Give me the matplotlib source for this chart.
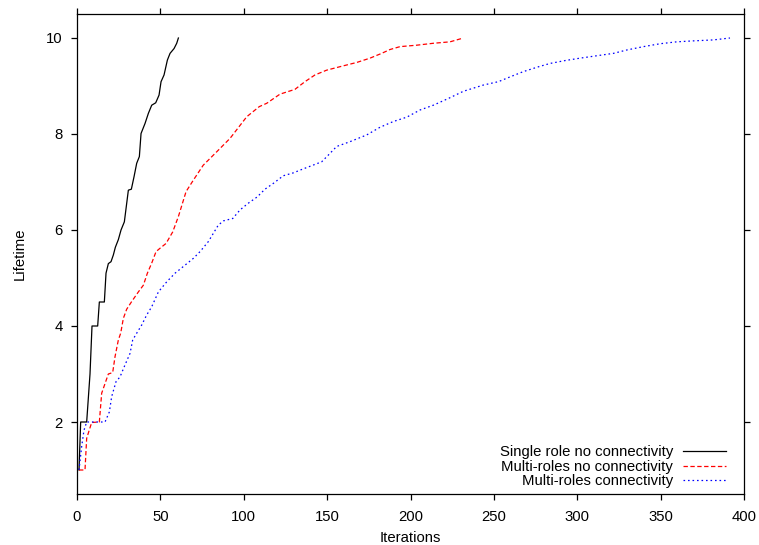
import matplotlib
matplotlib.use("Agg")
import matplotlib.pyplot as plt

plt.rcParams['font.family'] = ['Liberation Sans', 'DejaVu Sans']

# Single role, no connectivity
single_x = [1.2, 2.2, 5.8, 7.8, 9.0, 12.4, 13.4, 16.4, 17.4, 18.8, 20.4, 21.8, 23.0,
            24.8, 26.4, 28.4, 30.8, 32.6, 34.2, 35.8, 37.4, 38.4, 40.8, 42.8, 44.8,
            47.2, 49.2, 50.4, 52.2, 54.2, 55.8, 58.2, 59.8, 60.8]
single_y = [1.0, 2.0, 2.0, 3.0, 4.0, 4.0, 4.5, 4.5, 5.1, 5.3, 5.34, 5.48, 5.64,
            5.8, 6.0, 6.17, 6.83, 6.85, 7.11, 7.39, 7.53, 8.01, 8.22, 8.43, 8.6,
            8.65, 8.81, 9.09, 9.23, 9.54, 9.68, 9.78, 9.89, 10.0]

# Multi-roles, no connectivity
multi_x = [1.2, 4.8, 5.8, 8.8, 13.4, 14.8, 16.8, 18.8, 21.4, 22.8, 24.8, 26.2, 27.8,
           29.8, 32.8, 36.8, 39.8, 42.2, 44.8, 47.4, 49.8, 53.4, 57.4, 60.8, 65.4,
           69.8, 75.7, 83.8, 91.8, 101.8, 109.3, 113.8, 121.7, 130.7, 136.7, 142.7,
           149.7, 159.7, 167.7, 175.7, 182.7, 187.7, 193.7, 203.7, 213.7, 223.7, 231.7]
multi_y = [1.0, 1.0, 1.66, 1.99, 2.0, 2.6, 2.8, 3.0, 3.03, 3.36, 3.71, 3.85, 4.16,
           4.35, 4.51, 4.71, 4.85, 5.1, 5.31, 5.55, 5.62, 5.72, 5.96, 6.28, 6.8,
           7.04, 7.35, 7.63, 7.91, 8.36, 8.57, 8.64, 8.83, 8.93, 9.09, 9.23,
           9.33, 9.42, 9.49, 9.58, 9.68, 9.76, 9.82, 9.85, 9.89, 9.92, 10.0]

# Multi-roles, connectivity
conn_x = [1.2, 2.8, 4.2, 5.8, 16.8, 19.4, 20.8, 23.4, 25.8, 28.8, 31.8, 33.4, 35.8,
          38.8, 41.8, 44.8, 48.8, 53.8, 58.8, 63.8, 69.8, 73.8, 78.8, 84.7, 87.8,
          93.4, 97.8, 102.8, 108.1, 112.7, 117.7, 123.7, 129.7, 134.7, 140.7, 146.7,
          150.7, 155.7, 163.7, 173.7, 181.7, 189.7, 197.7, 205.7, 213.7, 222.7,
          231.7, 243.7, 252.7, 259.7, 267.7, 276.7, 283.7, 292.7, 301.7, 311.7,
          321.7, 329.7, 339.7, 349.6, 359.6, 369.6, 381.6, 391.6]
conn_y = [1.0, 1.49, 1.83, 2.0, 2.0, 2.21, 2.53, 2.84, 2.94, 3.19, 3.43, 3.71, 3.85,
          4.02, 4.23, 4.4, 4.71, 4.92, 5.1, 5.24, 5.41, 5.55, 5.76, 6.1, 6.19,
          6.24, 6.42, 6.56, 6.69, 6.85, 6.97, 7.13, 7.19, 7.26, 7.34, 7.42,
          7.56, 7.74, 7.84, 7.98, 8.14, 8.26, 8.35, 8.5, 8.6, 8.74,
          8.89, 9.02, 9.09, 9.19, 9.3, 9.4, 9.47, 9.53, 9.58, 9.63,
          9.68, 9.75, 9.82, 9.88, 9.92, 9.94, 9.96, 10.0]

x_ticks = [0, 50, 100, 150, 200, 250, 300, 350, 400]
y_ticks = [2, 4, 6, 8, 10]

FS = 10.7

fig = plt.figure(figsize=(7.59, 5.45), dpi=100)
ax = fig.add_axes([77 / 759, 51 / 545, 667 / 759, 480 / 545])

ax.plot(single_x, single_y, color='black', lw=0.9, label='Single role no connectivity')
ax.plot(multi_x, multi_y, color='red', lw=0.9, dashes=[3.5, 2.0],
        label='Multi-roles no connectivity')
ax.plot(conn_x, conn_y, color='blue', lw=0.9, dashes=[1.3, 2.3],
        label='Multi-roles connectivity')

ax.set_xlim(0, 400)
ax.set_ylim(0.5, 10.5)
ax.set_xticks(x_ticks)
ax.set_yticks(y_ticks)
ax.tick_params(direction='out', length=4.5, width=0.9, labelsize=FS,
               top=True, right=True, labeltop=False, labelright=False)
ax.tick_params(axis='y', pad=6.0)
ax.tick_params(axis='x', pad=7.0)
for s in ax.spines.values():
    s.set_linewidth(0.9)

ax.set_xlabel('Iterations', fontsize=FS, labelpad=5)
ax.set_ylabel('Lifetime', fontsize=FS, labelpad=14)

ax.legend(loc='lower right', bbox_to_anchor=(0.973, 0.0125), frameon=False,
          markerfirst=False, fontsize=FS, handlelength=2.9, handletextpad=0.67,
          labelspacing=0.02, borderpad=0.0, borderaxespad=0.0)

fig.savefig('out.png', dpi=100)
